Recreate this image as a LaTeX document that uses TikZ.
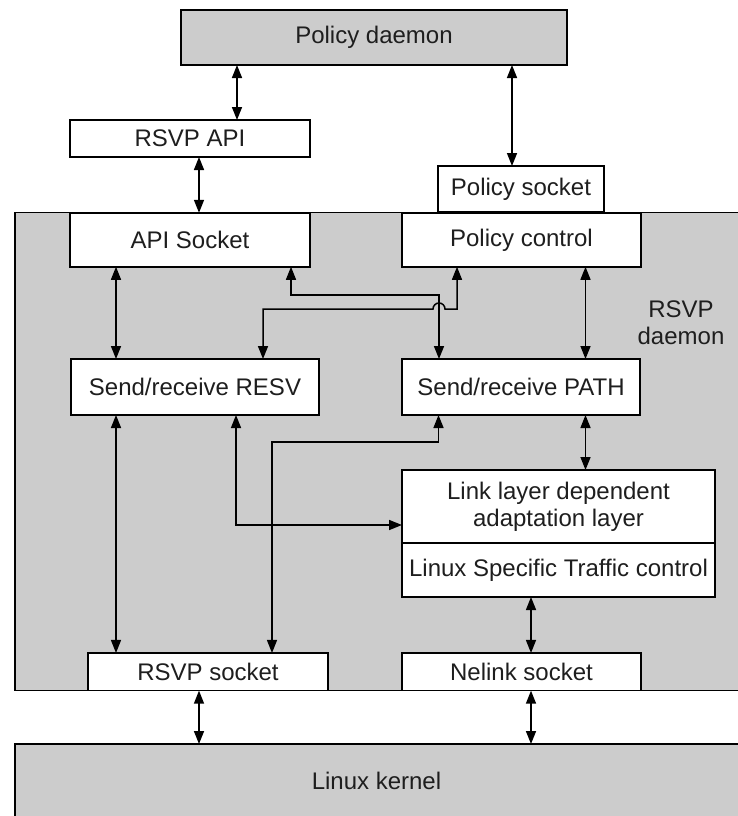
\documentclass[tikz,border=0pt]{standalone}
\usepackage{fontspec}
\setmainfont{Liberation Sans}
\usetikzlibrary{arrows.meta}
\definecolor{panel}{RGB}{204,204,204}
\definecolor{ink}{RGB}{30,30,30}
\begin{document}
\begin{tikzpicture}[x=1pt,y=-1pt,
  every node/.style={font=\fontsize{24}{27}\selectfont, text=ink},
  box/.style={draw=black, line width=1.5pt, fill=white, inner sep=0pt, outer sep=0pt, align=center},
  graybox/.style={box, fill=panel},
  link/.style={line width=1.5pt, {Triangle[length=13pt,width=10pt]}-{Triangle[length=13pt,width=10pt]}}]
\useasboundingbox (0,0) rectangle (738,816);
\fill[white] (0,0) rectangle (738,816);

% outer blocks
\node[graybox, minimum width=386pt, minimum height=55pt] (pd) at (374,37.5) {Policy daemon};
\node[graybox, minimum width=728pt, minimum height=478pt] (daemon) at (379,451.5) {};
\node[graybox, minimum width=728pt, minimum height=80pt] (kernel) at (379,784) {};
\node (kernellabel) at (376.5,781) {Linux kernel};
\node[align=center] (daemonlabel) at (681,323) {RSVP\\daemon};

% boxes above the daemon
\node[box, minimum width=240pt, minimum height=37pt] (api) at (190,138.5) {RSVP API};
\node[box, minimum width=166pt, minimum height=46pt] (psock) at (521,189) {Policy socket};

% boxes inside the daemon
\node[box, minimum width=240pt, minimum height=54pt] (apis) at (190,239.8) {API Socket};
\node[box, minimum width=239pt, minimum height=54pt] (pc) at (521.5,239.8) {Policy control};
\node[box, minimum width=248pt, minimum height=56pt] (resv) at (195,387) {Send/receive RESV};
\node[box, minimum width=238pt, minimum height=56pt] (path) at (521,387) {Send/receive PATH};
\node[box, minimum width=313pt, minimum height=73pt] (lla) at (558.5,506.5) {Link layer dependent\\adaptation layer};
\node[box, minimum width=313pt, minimum height=54pt] (tc) at (558.5,570) {Linux Specific Traffic control};
\node[box, minimum width=240pt, minimum height=37.7pt] (rsock) at (208,671.8) {RSVP socket};
\node[box, minimum width=239pt, minimum height=37.7pt] (nsock) at (521.5,671.8) {Nelink socket};

% routing points
\coordinate (xa) at (237,0);
\coordinate (xb) at (512,0);
\coordinate (xc) at (199,0);
\coordinate (xd) at (116,0);
\coordinate (xe) at (585.5,0);
\coordinate (xf) at (531,0);
\coordinate (k1) at (291,295);
\coordinate (k2) at (439,0);
\coordinate (k3) at (457,0);
\coordinate (hr) at (445,309);
\coordinate (k5) at (263,0);
\coordinate (k6) at (236,525);
\coordinate (k7) at (438.5,0);
\coordinate (k8) at (272,442);

% straight connectors
\draw[link] (pd.south -| xa) -- (api.north -| xa);
\draw[link] (pd.south -| xb) -- (psock.north -| xb);
\draw[link] (api.south -| xc) -- (apis.north -| xc);
\draw[link] (apis.south -| xd) -- (resv.north -| xd);
\draw[link] (pc.south -| xe) -- (path.north -| xe);
\draw[link] (resv.south -| xd) -- (rsock.north -| xd);
\draw[link] (path.south -| xe) -- (lla.north -| xe);
\draw[link] (tc.south -| xf) -- (nsock.north -| xf);
\draw[link] (rsock.south -| xc) -- (kernel.north -| xc);
\draw[link] (nsock.south -| xf) -- (kernel.north -| xf);

% routed connectors, one hopping over the other
\draw[link] (apis.south -| k1) -- (k1) -| (path.north -| k2);
\draw[link] (pc.south -| k3) |- (hr) arc[start angle=0, end angle=180, radius=6pt] -| (resv.north -| k5);
\draw[link] (resv.south -| k6) |- (lla.west |- k6);
\draw[link] (path.south -| k7) |- (k8) -- (rsock.north -| k8);
\end{tikzpicture}
\end{document}
